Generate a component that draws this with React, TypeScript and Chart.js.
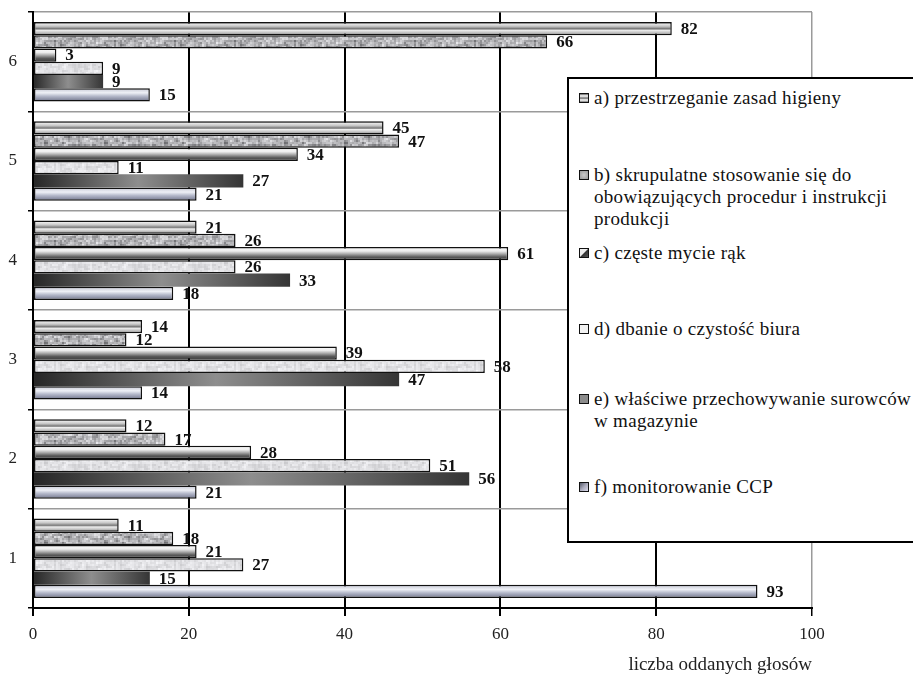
import React, { useEffect, useRef } from 'react';
import { Chart, registerables } from 'chart.js';

Chart.register(...registerables);

// ---- data ----
const categories = ['1', '2', '3', '4', '5', '6'];
const seriesA = [11, 12, 14, 21, 45, 82];
const seriesB = [18, 17, 12, 26, 47, 66];
const seriesC = [21, 28, 39, 61, 34, 3];
const seriesD = [27, 51, 58, 26, 11, 9];
const seriesE = [15, 56, 47, 33, 27, 9];
const seriesF = [93, 21, 14, 18, 21, 15];
const seriesNames = [
  'a) przestrzeganie zasad higieny',
  'b) skrupulatne stosowanie się do\nobowiązujących procedur i instrukcji\nprodukcji',
  'c) częste mycie rąk',
  'd) dbanie o czystość biura',
  'e) właściwe przechowywanie surowców\nw magazynie',
  'f) monitorowanie CCP',
];
const xTickValues = [0, 20, 40, 60, 80, 100];
const xAxisTitle = 'liczba oddanych głosów';

const FONT = '"Liberation Serif", "Times New Roman", serif';

// deterministic texture helper (style only)
function hash(i: number, j: number) {
  const s = Math.sin(i * 12.9898 + j * 78.233) * 43758.5453;
  return s - Math.floor(s);
}

function makePattern(kind: 'b' | 'd') {
  const c = document.createElement('canvas');
  c.width = 60;
  c.height = 40;
  const g = c.getContext('2d')!;
  for (let i = 0; i < 30; i++) {
    for (let j = 0; j < 20; j++) {
      const n = (hash(i, j) * 2 + hash(i + 1, j) + hash(i, j + 1)) / 4;
      let v: number;
      if (kind === 'b') {
        v = Math.round(105 + n * 140);
      } else {
        v = Math.round(200 + n * 50);
      }
      g.fillStyle = `rgb(${v},${v},${Math.min(255, v + 3)})`;
      g.fillRect(i * 2, j * 2, 2, 2);
    }
  }
  return g.createPattern(c, 'repeat');
}

function geom(c: any) {
  const chart = c.chart;
  const ys = chart.scales?.y;
  const xs = chart.scales?.x;
  if (!ys || !xs) return null;
  const n = chart.data.labels.length;
  const nds = chart.data.datasets.length;
  const band = (ys.bottom - ys.top) / n;
  const center = ys.getPixelForValue(c.dataIndex);
  const size = band * 0.8;
  const chunk = size / nds;
  const top = center - size / 2 + chunk * c.datasetIndex;
  const x0 = xs.getPixelForValue(0);
  const x1 = xs.getPixelForValue(c.raw ?? 0);
  return { top, bottom: top + chunk, x0, x1 };
}

type Stop = [number, string];
function vGrad(stops: Stop[], fallback: string) {
  return (c: any) => {
    if (c.type !== 'data') return fallback;
    const g = geom(c);
    if (!g || !isFinite(g.top)) return fallback;
    const gr = c.chart.ctx.createLinearGradient(0, g.top, 0, g.bottom);
    stops.forEach(([o, col]) => gr.addColorStop(o, col));
    return gr;
  };
}
function hGrad(stops: Stop[], fallback: string) {
  return (c: any) => {
    if (c.type !== 'data') return fallback;
    const g = geom(c);
    if (!g || !isFinite(g.x0) || g.x1 - g.x0 < 1) return fallback;
    const gr = c.chart.ctx.createLinearGradient(g.x0, 0, g.x1, 0);
    stops.forEach(([o, col]) => gr.addColorStop(o, col));
    return gr;
  };
}

const valueLabels = {
  id: 'valueLabels',
  beforeDatasetsDraw(chart: any) {
    const ctx = chart.ctx;
    ctx.save();
    ctx.font = `bold 17px ${FONT}`;
    ctx.fillStyle = '#111';
    ctx.textBaseline = 'middle';
    ctx.textAlign = 'left';
    chart.data.datasets.forEach((ds: any, di: number) => {
      const meta = chart.getDatasetMeta(di);
      meta.data.forEach((el: any, i: number) => {
        ctx.fillText(String(ds.data[i]), el.x + 9, el.y + 1);
      });
    });
    ctx.restore();
  },
};

const swatches = [
  'repeating-linear-gradient(180deg,#888 0px,#888 1px,#ddd 1px,#ddd 3px,#999 3px,#999 4px)',
  'radial-gradient(circle,#ccc 0%,#999 100%)',
  'linear-gradient(135deg,#eee 0%,#eee 45%,#333 55%,#555 100%)',
  '#f2f2f2',
  '#8c8c8c',
  'linear-gradient(135deg,#555a6a 0%,#aab 50%,#dde 100%)',
];
const legendTops = [85, 162, 240, 316, 386, 474];

export default function App() {
  const ref = useRef<HTMLCanvasElement>(null);

  useEffect(() => {
    if (!ref.current) return;
    const labels = [...categories].reverse();
    const rev = (a: number[]) => [...a].reverse();
    const patB = makePattern('b');
    const patD = makePattern('d');

    const fills: any[] = [
      vGrad(
        [
          [0, '#8a8a8a'], [0.12, '#9a9a9a'], [0.14, '#e8e8e8'], [0.32, '#c8c8c8'], [0.44, '#9a9a9a'],
          [0.5, '#7a7a7a'], [0.56, '#9a9a9a'], [0.62, '#eeeeee'], [0.8, '#c4c4c4'], [0.9, '#a0a0a0'],
          [1, '#8a8a8a'],
        ],
        '#bbb'
      ),
      patB,
      vGrad([[0, '#fbfbfb'], [0.3, '#eeeeee'], [0.5, '#b0b0b0'], [0.75, '#5a5a5a'], [1, '#3a3a3a']], '#999'),
      patD,
      hGrad([[0, '#262626'], [0.5, '#8e8e8e'], [1, '#353535']], '#666'),
      vGrad(
        [[0, '#6e7288'], [0.15, '#d6d8e2'], [0.35, '#eef0f6'], [0.6, '#b6bacb'], [0.85, '#8a8ea3'], [1, '#5e6275']],
        '#aab'
      ),
    ];
    const borders = [1.5, 1.5, 1.5, 1.5, 0, 1.5];
    const series = [seriesA, seriesB, seriesC, seriesD, seriesE, seriesF];

    const chart = new Chart(ref.current, {
      type: 'bar',
      data: {
        labels,
        datasets: series.map((s, i) => ({
          label: seriesNames[i],
          data: rev(s),
          backgroundColor: fills[i],
          borderColor: '#111',
          borderWidth: borders[i],
          borderSkipped: false,
          categoryPercentage: 0.8,
          barPercentage: 1,
        })),
      },
      options: {
        indexAxis: 'y',
        responsive: false,
        animation: false,
        devicePixelRatio: 1,
        layout: { padding: { left: 0, top: 12, right: 101, bottom: 0 } },
        plugins: {
          legend: { display: false },
          tooltip: { enabled: false },
        },
        scales: {
          x: {
            type: 'linear',
            min: 0,
            max: 100,
            afterBuildTicks: (s: any) => {
              s.ticks = xTickValues.map((v) => ({ value: v }));
            },
            afterFit: (s: any) => {
              s.height = 68;
              s.paddingLeft = 0;
              s.paddingRight = 0;
            },
            grid: {
              color: (c: any) => (c.tick && c.tick.value === 100 ? '#9a9a9a' : '#000'),
              lineWidth: (c: any) => (c.tick && c.tick.value === 100 ? 1.5 : 2),
              tickColor: '#000',
              tickLength: 8,
            },
            border: { color: '#000', width: 2 },
            ticks: {
              color: '#222',
              font: { family: FONT, size: 17 },
              padding: 8,
              maxRotation: 0,
            },
            title: {
              display: true,
              text: xAxisTitle,
              align: 'end',
              color: '#222',
              font: { family: FONT, size: 19 },
              padding: { top: 0, bottom: 0 },
            },
          },
          y: {
            type: 'category',
            afterFit: (s: any) => {
              s.width = 33;
              s.paddingTop = 0;
              s.paddingBottom = 0;
            },
            grid: {
              color: '#9a9a9a',
              lineWidth: 1.5,
              tickColor: '#000',
              tickLength: 5,
            },
            border: { color: '#000', width: 2 },
            ticks: {
              color: '#222',
              font: { family: FONT, size: 17 },
              padding: 11,
            },
          },
        },
      },
      plugins: [valueLabels],
    } as any);
    return () => chart.destroy();
  }, []);

  return (
    <div
      style={{
        position: 'fixed',
        left: 0,
        top: 0,
        width: 913,
        height: 676,
        overflow: 'hidden',
        background: '#fff',
      }}
    >
      <canvas ref={ref} width={913} height={676} style={{ position: 'absolute', left: 0, top: 0, display: 'block' }} />
      <div
        style={{
          position: 'absolute',
          left: 567,
          top: 77,
          width: 380,
          height: 462,
          border: '2px solid #000',
          background: '#fff',
          fontFamily: FONT,
          fontSize: 19,
          letterSpacing: '0.3px',
          lineHeight: '22px',
          color: '#111',
        }}
      >
        {seriesNames.map((name, i) => (
          <div key={i} style={{ position: 'absolute', left: 10, top: legendTops[i] - 77, whiteSpace: 'pre' }}>
            <span
              style={{
                position: 'absolute',
                left: 0,
                top: 6,
                width: 8,
                height: 8,
                border: '1px solid #111',
                background: swatches[i],
              }}
            />
            <div style={{ marginLeft: 15 }}>{name}</div>
          </div>
        ))}
      </div>
    </div>
  );
}
